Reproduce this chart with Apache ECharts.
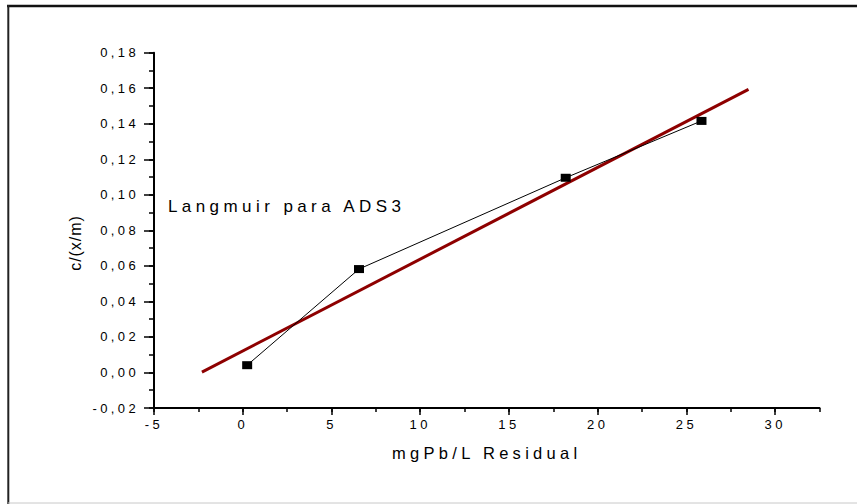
<!DOCTYPE html>
<html>
<head>
<meta charset="utf-8">
<script src="https://cdn.jsdelivr.net/npm/echarts@6/dist/echarts.min.js"></script>
<style>
  html, body { margin: 0; padding: 0; background: #fff; }
  #chart { width: 857px; height: 504px; }
  /* spaced-out lettering used by the plot's text */
  #chart text { letter-spacing: 0.26em; }
</style>
</head>
<body>
<div id="chart"></div>
<script>
// Langmuir linearisation: c/(x/m) against residual Pb concentration
const residualPb = [0.25, 6.55, 18.2, 25.85];        // mgPb/L
const cOverXm = [0.0041, 0.0582, 0.1096, 0.1416];    // c/(x/m)

// least-squares line, drawn between its two end points
const fitX = [-2.3, 28.5];
const fitY = [0.0002, 0.1594];

const xMajorTicks = [-5, 0, 5, 10, 15, 20, 25, 30];
const yMajorTicks = [-0.02, 0, 0.02, 0.04, 0.06, 0.08, 0.10, 0.12, 0.14, 0.16, 0.18];

const FONT = '"Liberation Sans", Arial, sans-serif';
const INK = '#000';

const measured = residualPb.map((x, i) => [x, cOverXm[i]]);
const fitLine = fitX.map((x, i) => [x, fitY[i]]);

const axisLine = { show: true, onZero: false, lineStyle: { color: INK, width: 2 } };
const noLine = { show: false, onZero: false };

const chart = echarts.init(document.getElementById('chart'), null, { renderer: 'svg' });

chart.setOption({
  animation: false,
  backgroundColor: '#fff',
  grid: { left: 154, right: 37.5, top: 52.7, bottom: 96, containLabel: false },
  xAxis: [
    {
      type: 'value', min: -5, max: 32.5, interval: 2.5,
      position: 'bottom',
      axisLine: axisLine,
      axisTick: { show: true, inside: false, length: 4, lineStyle: { color: INK, width: 1.5 } },
      axisLabel: {
        show: true, customValues: xMajorTicks, margin: 10,
        color: INK, fontFamily: FONT, fontSize: 13,
        formatter: v => String(v)
      },
      splitLine: { show: false },
      name: 'mgPb/L Residual', nameLocation: 'middle', nameGap: 36,
      nameTextStyle: { color: INK, fontFamily: FONT, fontSize: 16.5 }
    },
    {
      type: 'value', min: -5, max: 32.5, interval: 2.5,
      position: 'bottom',
      axisLine: noLine,
      axisTick: { show: true, customValues: xMajorTicks, length: 7, lineStyle: { color: INK, width: 1.5 } },
      axisLabel: { show: false },
      splitLine: { show: false }
    }
  ],
  yAxis: [
    {
      type: 'value', min: -0.02, max: 0.18, interval: 0.01,
      position: 'left',
      axisLine: axisLine,
      axisTick: { show: true, inside: false, length: 5, lineStyle: { color: INK, width: 1.5 } },
      axisLabel: {
        show: true, customValues: yMajorTicks, margin: 15,
        color: INK, fontFamily: FONT, fontSize: 13,
        formatter: v => v.toFixed(2).replace('.', ',')
      },
      splitLine: { show: false }
    },
    {
      type: 'value', min: -0.02, max: 0.18, interval: 0.01,
      position: 'left',
      axisLine: noLine,
      axisTick: { show: true, customValues: yMajorTicks, length: 10, lineStyle: { color: INK, width: 1.5 } },
      axisLabel: { show: false },
      splitLine: { show: false }
    }
  ],
  series: [
    {
      name: 'ajuste',
      type: 'line',
      data: fitLine,
      showSymbol: false,
      symbol: 'none',
      lineStyle: { color: '#8e0000', width: 3 },
      z: 2
    },
    {
      name: 'ADS3',
      type: 'line',
      data: measured,
      symbol: 'rect',
      symbolSize: [10, 8],
      itemStyle: { color: INK },
      lineStyle: { color: INK, width: 1 },
      z: 3
    }
  ],
  graphic: [
    // frame around the figure
    { type: 'line', shape: { x1: 7, y1: 6, x2: 857, y2: 6 }, style: { stroke: '#111', lineWidth: 2.5 } },
    { type: 'line', shape: { x1: 8.3, y1: 5, x2: 8.3, y2: 504 }, style: { stroke: '#222', lineWidth: 2 } },
    { type: 'line', shape: { x1: 8, y1: 503, x2: 857, y2: 503 }, style: { stroke: '#c8c8c8', lineWidth: 1 } },
    // y axis title
    {
      type: 'text', x: 75, y: 243, rotation: Math.PI / 2,
      style: {
        text: 'c/(x/m)', fill: INK, font: '16px ' + FONT,
        align: 'center', verticalAlign: 'middle'
      }
    },
    // series annotation
    {
      type: 'text', x: 168, y: 206,
      style: {
        text: 'Langmuir para ADS3', fill: INK, font: '17px ' + FONT,
        align: 'left', verticalAlign: 'middle'
      }
    }
  ]
});

// the rotated axis title is set tighter than the rest of the text
function tightenYTitle() {
  document.querySelectorAll('#chart text').forEach(t => {
    if (t.textContent === 'c/(x/m)') t.style.letterSpacing = '0.06em';
  });
}
tightenYTitle();
chart.on('finished', tightenYTitle);
</script>
</body>
</html>
